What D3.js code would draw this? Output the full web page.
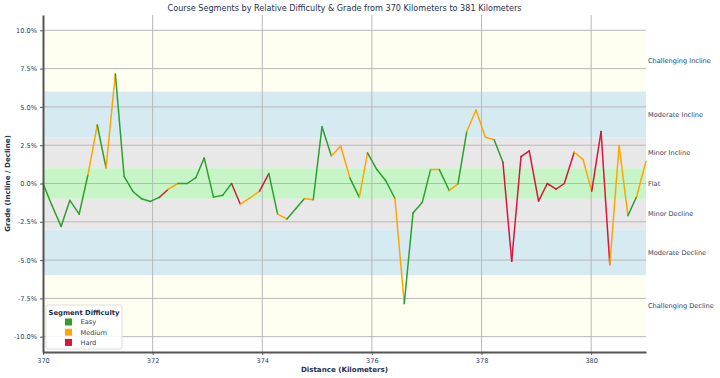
<!DOCTYPE html>
<html>
<head>
<meta charset="utf-8">
<script src="https://cdn.jsdelivr.net/npm/d3@7"></script>
<style>
	body { margin: 0; background: #fff; }
	svg { font-family: "DejaVu Sans", sans-serif; }
</style>
</head>
<body>
<svg id="chart"></svg>
<script>
// distance (km) and grade (%)
const distances = [370.00, 370.16, 370.33, 370.49, 370.66, 370.82, 370.99, 371.15, 371.32, 371.48,
	371.64, 371.80, 371.96, 372.12, 372.28, 372.46, 372.63, 372.79, 372.94, 373.11,
	373.28, 373.44, 373.60, 373.78, 373.95, 374.12, 374.28, 374.45, 374.61, 374.77,
	374.93, 375.09, 375.26, 375.43, 375.60, 375.77, 375.92, 376.09, 376.25, 376.42,
	376.59, 376.75, 376.92, 377.07, 377.23, 377.41, 377.57, 377.73, 377.90, 378.07,
	378.23, 378.39, 378.55, 378.72, 378.87, 379.04, 379.20, 379.36, 379.51, 379.69,
	379.85, 380.01, 380.18, 380.34, 380.51, 380.67, 380.83, 381.00];
const grades = [0.0, -1.4, -2.8, -1.1, -2.0, 0.57, 3.82, 1.02, 7.15, 0.46,
	-0.52, -1.0, -1.17, -0.91, -0.39, 0.0, 0.0, 0.39, 1.67, -0.89,
	-0.76, 0.0, -1.35, -0.93, -0.5, 0.65, -2.0, -2.32, -1.65, -0.98,
	-1.06, 3.71, 1.8, 2.45, 0.35, -0.91, 2.0, 0.91, 0.2, -0.98,
	-7.84, -1.93, -1.22, 0.91, 0.91, -0.46, -0.02, 3.39, 4.8, 3.02,
	2.85, 1.39, -5.08, 1.76, 2.13, -1.15, 0.0, -0.37, 0.0, 2.04,
	1.58, -0.5, 3.39, -5.3, 2.48, -2.1, -0.85, 1.45];
// difficulty of each segment (point i -> i+1)
const difficulty = ['E','E','E','E','E','M','E','M','E','E',
	'E','E','E','H','M','E','E','E','E','E',
	'E','H','M','M','H','E','M','E','E','M',
	'E','E','M','M','E','M','E','E','E','M',
	'E','E','E','M','E','M','E','M','M','M',
	'E','H','H','H','H','H','H','H','H','M',
	'M','H','H','M','M','E','M'];

const diffNames = ['Easy', 'Medium', 'Hard'];
const diffKeys = ['E', 'M', 'H'];
const diffColors = ['#2ca02c', '#ffa500', '#dc143c'];

const bandNames = ['Challenging Incline', 'Moderate Incline', 'Minor Incline', 'Flat', 'Minor Decline', 'Moderate Decline', 'Challenging Decline'];
const bandLow = [6, 3, 1, -1, -3, -6, -10];
const bandHigh = [10, 6, 3, 1, -1, -3, -6];
const bandColors = ['#fefff0', '#d5eaf1', '#e8e8e8', '#c8f5c8', '#e8e8e8', '#d5eaf1', '#fefff0'];

const xTicks = [370, 372, 374, 376, 378, 380];
const yTicks = [10, 7.5, 5, 2.5, 0, -2.5, -5, -7.5, -10];

function makeChart() {
	let w = 720;
	let h = 378;
	let m = { left: 43, right: 646, top: 15, bottom: 352 };
	let textColor = '#2a3f5f';

	let chart = d3.select('#chart')
		.attr('width', w)
		.attr('height', h);

	let x = d3.scaleLinear().domain([370, 381]).range([m.left, m.right]);
	let y = d3.scaleLinear().domain([-11, 11]).range([m.bottom, m.top]);
	let color = d3.scaleOrdinal().domain(diffKeys).range(diffColors);

	// grade bands
	chart.selectAll('rect.band')
		.data(bandNames)
		.enter()
		.append('rect')
		.classed('band', true)
		.attr('x', m.left)
		.attr('width', m.right - m.left)
		.attr('y', (d, i) => y(bandHigh[i]))
		.attr('height', (d, i) => y(bandLow[i]) - y(bandHigh[i]))
		.style('fill', (d, i) => bandColors[i]);

	// grid
	chart.selectAll('line.vgrid')
		.data(xTicks.slice(1))
		.enter()
		.append('line')
		.attr('x1', d => x(d)).attr('x2', d => x(d))
		.attr('y1', m.top).attr('y2', m.bottom)
		.style('stroke', '#b8b8b8').style('stroke-width', 1);
	chart.selectAll('line.hgrid')
		.data(yTicks)
		.enter()
		.append('line')
		.attr('x1', m.left).attr('x2', m.right)
		.attr('y1', d => y(d)).attr('y2', d => y(d))
		.style('stroke', '#b8b8b8').style('stroke-width', 1);

	// band labels
	chart.selectAll('text.bandlabel')
		.data(bandNames)
		.enter()
		.append('text')
		.attr('x', m.right + 2)
		.attr('y', (d, i) => y((bandLow[i] + bandHigh[i]) / 2))
		.attr('dy', '0.35em')
		.style('font-size', '6.6px')
		.style('fill', textColor)
		.text(d => d);

	// segments
	let segs = d3.range(distances.length - 1);
	chart.selectAll('line.seg')
		.data(segs)
		.enter()
		.append('line')
		.attr('x1', i => x(distances[i]))
		.attr('y1', i => y(grades[i]))
		.attr('x2', i => x(distances[i + 1]))
		.attr('y2', i => y(grades[i + 1]))
		.style('stroke', i => color(difficulty[i]))
		.style('stroke-width', 1.5)
		.style('stroke-linecap', 'round');

	// axes
	let xAxis = chart.append('g')
		.attr('transform', `translate(0,${m.bottom})`)
		.call(d3.axisBottom(x).tickValues(xTicks).tickFormat(d3.format('d')).tickSize(3).tickSizeOuter(0));
	let yAxis = chart.append('g')
		.attr('transform', `translate(${m.left},0)`)
		.call(d3.axisLeft(y).tickValues(yTicks).tickFormat(d => d.toFixed(1) + '%').tickSize(3).tickSizeOuter(0));
	[xAxis, yAxis].forEach(a => {
		a.select('.domain').style('stroke', '#555').style('stroke-width', 2);
		a.selectAll('.tick line').style('stroke', '#555');
		a.selectAll('.tick text').style('font-size', '6.6px').style('fill', textColor).style('font-family', '"DejaVu Sans", sans-serif');
	});

	// titles
	chart.append('text')
		.attr('x', (m.left + m.right) / 2)
		.attr('y', 11)
		.style('text-anchor', 'middle')
		.style('font-size', '8.1px')
		.style('fill', '#1f3050')
		.text('Course Segments by Relative Difficulty & Grade from 370 Kilometers to 381 Kilometers');
	chart.append('text')
		.attr('x', (m.left + m.right) / 2)
		.attr('y', 372)
		.style('text-anchor', 'middle')
		.style('font-size', '7.1px')
		.style('font-weight', 'bold')
		.style('fill', '#1f3050')
		.text('Distance (Kilometers)');
	chart.append('text')
		.attr('transform', `translate(10,${(m.top + m.bottom) / 2}) rotate(-90)`)
		.style('text-anchor', 'middle')
		.style('font-size', '7.1px')
		.style('font-weight', 'bold')
		.style('fill', '#1f3050')
		.text('Grade (Incline / Decline)');

	// legend
	let lg = chart.append('g').attr('transform', 'translate(46,305)');
	lg.append('rect')
		.attr('width', 76).attr('height', 44).attr('rx', 2)
		.style('fill', 'rgba(255,255,255,0.85)')
		.style('stroke', '#dddddd');
	lg.append('text')
		.attr('x', 38).attr('y', 9.5)
		.style('text-anchor', 'middle')
		.style('font-size', '6.8px')
		.style('font-weight', 'bold')
		.style('fill', '#1f3050')
		.text('Segment Difficulty');
	let items = lg.selectAll('g.item')
		.data(diffNames)
		.enter()
		.append('g')
		.attr('transform', (d, i) => `translate(0,${17 + i * 10.2})`);
	items.append('rect')
		.attr('x', 19).attr('y', -3.5).attr('width', 7).attr('height', 7)
		.style('fill', (d, i) => diffColors[i]);
	items.append('text')
		.attr('x', 34.5).attr('dy', '0.35em')
		.style('font-size', '6.6px')
		.style('fill', textColor)
		.text(d => d);
}

window.onload = function () {
	makeChart();
}
</script>
</body>
</html>
